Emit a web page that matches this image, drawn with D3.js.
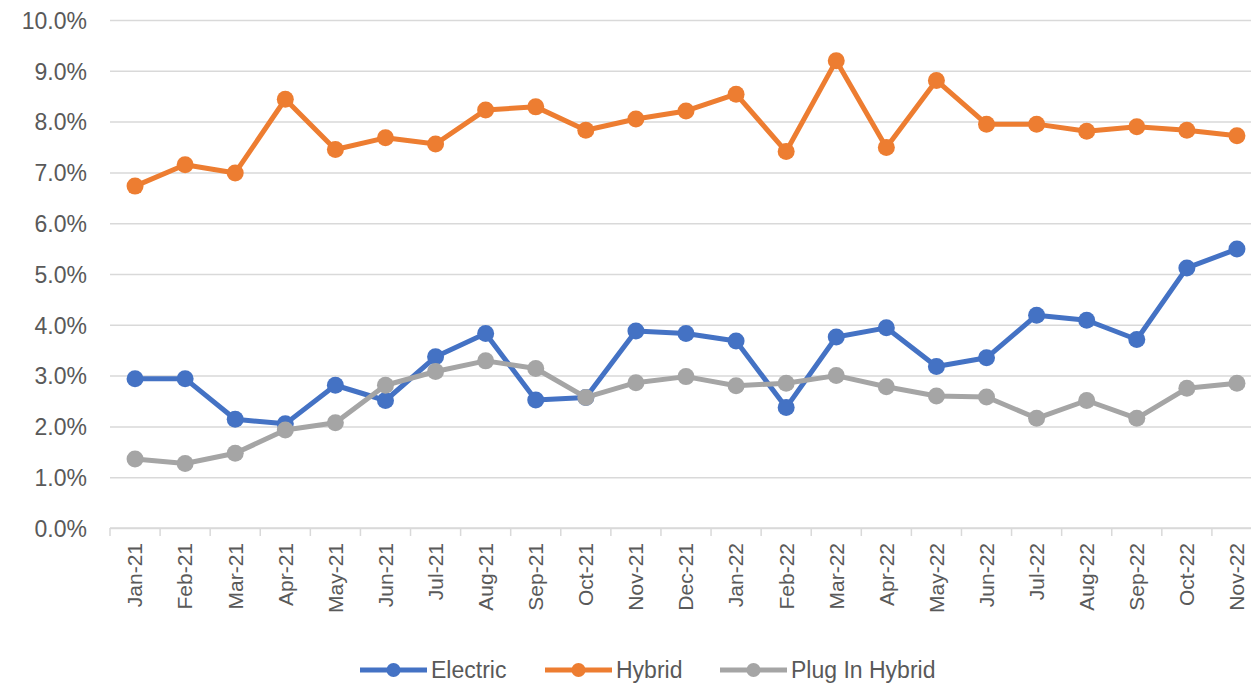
<!DOCTYPE html>
<html>
<head>
<meta charset="utf-8">
<script src="https://cdnjs.cloudflare.com/ajax/libs/d3/7.8.5/d3.min.js"></script>
<style>
  body { margin: 0; background: #fff; }
  svg { display: block; }
  .tick text { fill: #595959; }
</style>
</head>
<body>
<div id="container"></div>
<script>
// monthly share of sales by powertrain, Jan-21 .. Nov-22

var months = ["Jan-21","Feb-21","Mar-21","Apr-21","May-21","Jun-21","Jul-21","Aug-21","Sep-21","Oct-21","Nov-21","Dec-21",
              "Jan-22","Feb-22","Mar-22","Apr-22","May-22","Jun-22","Jul-22","Aug-22","Sep-22","Oct-22","Nov-22"];

var electric = [2.94,2.94,2.14,2.05,2.81,2.51,3.37,3.83,2.52,2.57,3.88,3.83,
                3.68,2.37,3.76,3.94,3.18,3.35,4.19,4.09,3.71,5.12,5.49];

var hybrid = [6.73,7.15,6.99,8.44,7.45,7.68,7.56,8.23,8.29,7.83,8.05,8.21,
              8.54,7.41,9.20,7.49,8.81,7.95,7.95,7.81,7.90,7.83,7.72];

var plugIn = [1.36,1.27,1.47,1.93,2.07,2.81,3.08,3.29,3.14,2.57,2.86,2.98,
              2.80,2.85,3.00,2.78,2.60,2.58,2.16,2.51,2.16,2.75,2.85];

var yTicks = [0,1,2,3,4,5,6,7,8,9,10];

var series = [
  {name: "Electric", values: electric, color: "#4472C4"},
  {name: "Hybrid", values: hybrid, color: "#ED7D31"},
  {name: "Plug In Hybrid", values: plugIn, color: "#A5A5A5"}
];

// plot box (the right side runs past the window, as in the source picture)
var W = 1251, H = 685;
var plot = {left: 110, right: 1262, top: 20, bottom: 528};

var svg = d3.select("#container").append("svg")
    .attr("width", W)
    .attr("height", H);

var x = d3.scaleBand().domain(months).range([plot.left, plot.right]);
var y = d3.scaleLinear().domain([0, 10]).range([plot.bottom, plot.top]);

// horizontal gridlines
svg.append("g")
    .attr("transform", "translate(" + plot.left + ",0)")
    .call(d3.axisLeft(y)
        .tickValues(yTicks)
        .tickSize(-(plot.right - plot.left))
        .tickFormat(""))
    .call(g => g.select(".domain").remove())
    .call(g => g.selectAll("line").attr("stroke", "#D9D9D9").attr("stroke-width", 1.5));

// y labels
svg.append("g")
    .attr("transform", "translate(" + plot.left + ",0)")
    .call(d3.axisLeft(y)
        .tickValues(yTicks)
        .tickSize(0)
        .tickPadding(23)
        .tickFormat(d => d.toFixed(1) + "%"))
    .call(g => g.select(".domain").remove())
    .selectAll("text")
      .style("font-family", "'Liberation Sans', Arial, sans-serif")
      .style("font-size", "23px")
      .attr("dy", "0.36em");

// x axis: baseline and tick marks between categories
var xa = svg.append("g")
    .attr("transform", "translate(0," + plot.bottom + ")");

xa.append("line")
    .attr("x1", plot.left).attr("x2", plot.right)
    .attr("stroke", "#D9D9D9").attr("stroke-width", 1.5);

xa.selectAll(".sep")
    .data(months)
  .enter().append("line")
    .attr("class", "sep")
    .attr("x1", d => x(d)).attr("x2", d => x(d))
    .attr("y1", 0).attr("y2", 8)
    .attr("stroke", "#D9D9D9").attr("stroke-width", 1.5);

xa.selectAll(".mlab")
    .data(months)
  .enter().append("text")
    .attr("class", "mlab")
    .attr("transform", d => "translate(" + (x(d) + x.bandwidth() / 2) + ",15) rotate(-90)")
    .attr("dy", "0.35em")
    .style("text-anchor", "end")
    .style("font-family", "'Liberation Sans Narrow', 'Liberation Sans', Arial, sans-serif")
    .style("font-size", "21px")
    .style("fill", "#595959")
    .text(d => d);

// lines and markers
var line = d3.line()
    .x((d, i) => x(months[i]) + x.bandwidth() / 2)
    .y(d => y(d));

series.forEach(function(s) {
  var g = svg.append("g");
  g.append("path")
      .datum(s.values)
      .attr("fill", "none")
      .attr("stroke", s.color)
      .attr("stroke-width", 5)
      .attr("stroke-linejoin", "round")
      .attr("d", line);
  g.selectAll("circle")
      .data(s.values)
    .enter().append("circle")
      .attr("cx", (d, i) => x(months[i]) + x.bandwidth() / 2)
      .attr("cy", d => y(d))
      .attr("r", 8.5)
      .attr("fill", s.color);
});

// legend
var legendX = [360, 545, 720];
var leg = svg.append("g");
series.forEach(function(s, i) {
  var lx = legendX[i], ly = 670;
  leg.append("line")
      .attr("x1", lx).attr("x2", lx + 67)
      .attr("y1", ly).attr("y2", ly)
      .attr("stroke", s.color).attr("stroke-width", 5);
  leg.append("circle")
      .attr("cx", lx + 33.5).attr("cy", ly).attr("r", 7)
      .attr("fill", s.color);
  leg.append("text")
      .attr("x", lx + 71).attr("y", ly)
      .attr("dy", "0.35em")
      .style("font-family", "'Liberation Sans', Arial, sans-serif")
      .style("font-size", "23px")
      .style("fill", "#595959")
      .text(s.name);
});
</script>
</body>
</html>
